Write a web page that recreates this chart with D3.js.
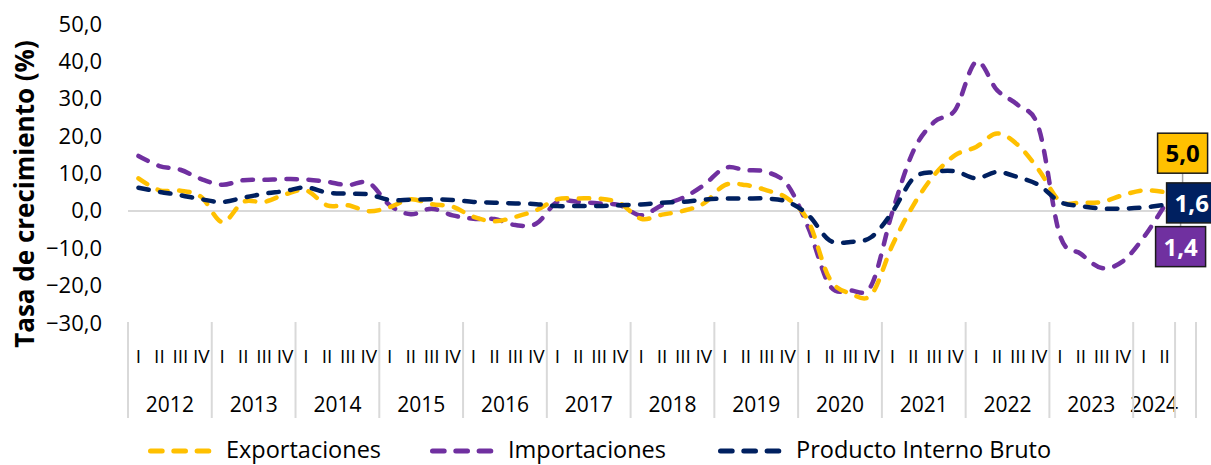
<!DOCTYPE html>
<html>
<head>
<meta charset="utf-8">
<script src="https://cdn.jsdelivr.net/npm/d3@7"></script>
<style>
  body { margin: 0; background: #fff; }
  svg { display: block; font-family: "Open Sans", "Noto Sans", sans-serif; }
</style>
</head>
<body>
<svg id="chart" width="1211" height="465"></svg>
<script>
// years and quarter labels for the category axis
var years = ["2012","2013","2014","2015","2016","2017","2018","2019","2020","2021","2022","2023","2024"];
var quarters = ["I","II","III","IV"];
var yTicks = [-30,-20,-10,0,10,20,30,40,50];

// growth rates (%), 2012-I .. 2024-II
var exportaciones = [8.7,5.5,5.4,3.7,-3.0,2.4,2.4,4.4,5.5,1.5,1.5,-0.1,1.0,3.1,1.8,1.1,
  -1.6,-2.8,-1.6,0.2,3.1,3.3,3.3,2.0,-2.1,-1.0,0.0,2.0,6.9,6.9,5.5,3.3,
  -2.9,-18.1,-22.1,-22.4,-9.2,1.5,9.6,14.9,17.1,20.7,17.6,10.9,2.6,2.2,2.4,4.2,5.5,5.0];
var importaciones = [14.7,12.0,11.0,8.5,7.0,8.2,8.3,8.5,8.4,7.8,6.9,7.5,1.5,-0.9,0.6,-1.2,
  -2.1,-2.2,-3.8,-3.4,2.4,2.4,2.0,1.5,-1.2,1.5,3.5,6.9,11.5,10.9,10.4,6.9,
  -4.7,-19.9,-21.3,-19.9,-0.3,16.0,23.8,27.0,39.9,32.3,28.3,22.0,-6.5,-11.5,-15.3,-13.5,-7.1,1.4];
var pib = [6.2,5.1,4.2,3.1,2.4,3.5,4.6,5.3,6.3,4.9,4.6,4.4,2.9,3.0,3.1,2.9,
  2.4,2.2,2.0,1.8,1.3,1.3,1.3,1.5,1.7,2.2,2.4,3.0,3.3,3.3,3.3,2.4,
  -1.2,-7.9,-8.3,-7.0,-0.3,8.7,10.4,10.6,8.7,10.4,9.0,6.9,2.4,1.3,0.6,0.6,0.9,1.6];

var seriesNames = ["Exportaciones","Importaciones","Producto Interno Bruto"];
var seriesColors = ["#FFC000","#7030A0","#002060"];
var seriesData = [exportaciones, importaciones, pib];

var svg = d3.select("#chart");
var locale = d3.formatLocale({decimal: ",", thousands: ".", grouping: [3], currency: ["", ""]});
var fmt = locale.format(".1f");

// category index: 50 quarters + one empty slot after the last one
var nCat = exportaciones.length + 1;
var x = d3.scaleBand().domain(d3.range(nCat)).range([128, 1196]).padding(0);
var y = d3.scaleLinear().domain([-30, 50]).range([323, 24]);

// y axis
var yAxis = svg.append("g")
  .attr("transform", "translate(128,0)")
  .call(d3.axisLeft(y).tickValues(yTicks).tickSize(0).tickPadding(26).tickFormat(fmt));
yAxis.select(".domain").remove();
yAxis.selectAll("text").attr("font-size", 22).attr("fill", "#000").attr("font-family", "Open Sans");

svg.append("text")
  .attr("transform", "translate(34,194) rotate(-90)")
  .attr("text-anchor", "middle")
  .attr("font-size", 26).attr("font-weight", "bold").attr("fill", "#000")
  .text("Tasa de crecimiento (%)");

// zero line
svg.append("line")
  .attr("x1", 128).attr("x2", 1196)
  .attr("y1", y(0)).attr("y2", y(0))
  .attr("stroke", "#D9D9D9").attr("stroke-width", 2);

// category labels
var catG = svg.append("g");
exportaciones.forEach(function(d, i) {
  catG.append("text")
    .attr("x", x(i) + x.bandwidth() / 2).attr("y", 363)
    .attr("text-anchor", "middle").attr("font-size", 19).attr("fill", "#000")
    .text(quarters[i % 4]);
});
var seps = [0];
years.forEach(function(yr, k) {
  var i0 = k * 4, i1 = Math.min(k * 4 + 4, exportaciones.length);
  var xs = x(i0), xe = x(i1 - 1) + x.bandwidth();
  catG.append("text")
    .attr("x", (xs + xe) / 2).attr("y", 412)
    .attr("text-anchor", "middle").attr("font-size", 21).attr("fill", "#000")
    .text(yr);
  seps.push(i1);
});
seps.push(nCat);
seps.forEach(function(i) {
  var xx = i < nCat ? x(i) : x(nCat - 1) + x.bandwidth();
  catG.append("line")
    .attr("x1", xx).attr("x2", xx).attr("y1", 322).attr("y2", 418)
    .attr("stroke", "#D9D9D9").attr("stroke-width", 2);
});

// lines
var line = d3.line()
  .x(function(d, i) { return x(i) + x.bandwidth() / 2; })
  .y(function(d) { return y(d); })
  .curve(d3.curveCardinal.tension(0));

[1, 0, 2].forEach(function(s) {
  svg.append("path")
    .datum(seriesData[s])
    .attr("d", line)
    .attr("fill", "none")
    .attr("stroke", seriesColors[s])
    .attr("stroke-width", 4.5)
    .attr("stroke-linecap", "round")
    .attr("stroke-dasharray", "10.5,11.5");
});

// end labels
var last = exportaciones.length - 1;
var lx = x(last) + x.bandwidth() / 2;
var labels = [
  {s: 0, cx: lx + 18, cy: y(exportaciones[last]) - 39, w: 50, color: "#FFC000", text: "#000"},
  {s: 2, cx: lx + 30, cy: y(pib[last]) - 2, w: 56, color: "#002060", text: "#fff"},
  {s: 1, cx: lx + 16, cy: y(importaciones[last]) + 41, w: 50, color: "#7030A0", text: "#fff"}
];
// leader lines between boxes
svg.append("line").attr("x1", lx + 18).attr("x2", lx + 18)
  .attr("y1", labels[0].cy + 20).attr("y2", labels[1].cy - 20)
  .attr("stroke", "#A6A6A6").attr("stroke-width", 1.5);
svg.append("line").attr("x1", lx + 16).attr("x2", lx + 16)
  .attr("y1", labels[1].cy + 20).attr("y2", labels[2].cy - 20)
  .attr("stroke", "#A6A6A6").attr("stroke-width", 1.5);
labels.forEach(function(l) {
  svg.append("rect")
    .attr("x", l.cx - l.w / 2).attr("y", l.cy - 20)
    .attr("width", l.w).attr("height", 40)
    .attr("fill", l.color).attr("stroke", "#1a1a1a").attr("stroke-width", 1.5);
  svg.append("text")
    .attr("x", l.s === 2 ? l.cx - l.w / 2 + 8 : l.cx).attr("y", l.cy + 9)
    .attr("text-anchor", l.s === 2 ? "start" : "middle")
    .attr("font-size", 24).attr("font-weight", "bold").attr("fill", l.text)
    .text(fmt(seriesData[l.s][last]));
});

// legend
var legX = [148, 430, 718];
seriesNames.forEach(function(name, s) {
  var g = svg.append("g").attr("transform", "translate(" + legX[s] + ",451)");
  g.append("line")
    .attr("x1", 2.5).attr("x2", 62).attr("y1", 0).attr("y2", 0)
    .attr("stroke", seriesColors[s]).attr("stroke-width", 5)
    .attr("stroke-linecap", "round").attr("stroke-dasharray", "11.7,11.6");
  g.append("text")
    .attr("x", 78).attr("y", 7)
    .attr("font-size", 23.5).attr("fill", "#000")
    .text(name);
});
</script>
</body>
</html>
